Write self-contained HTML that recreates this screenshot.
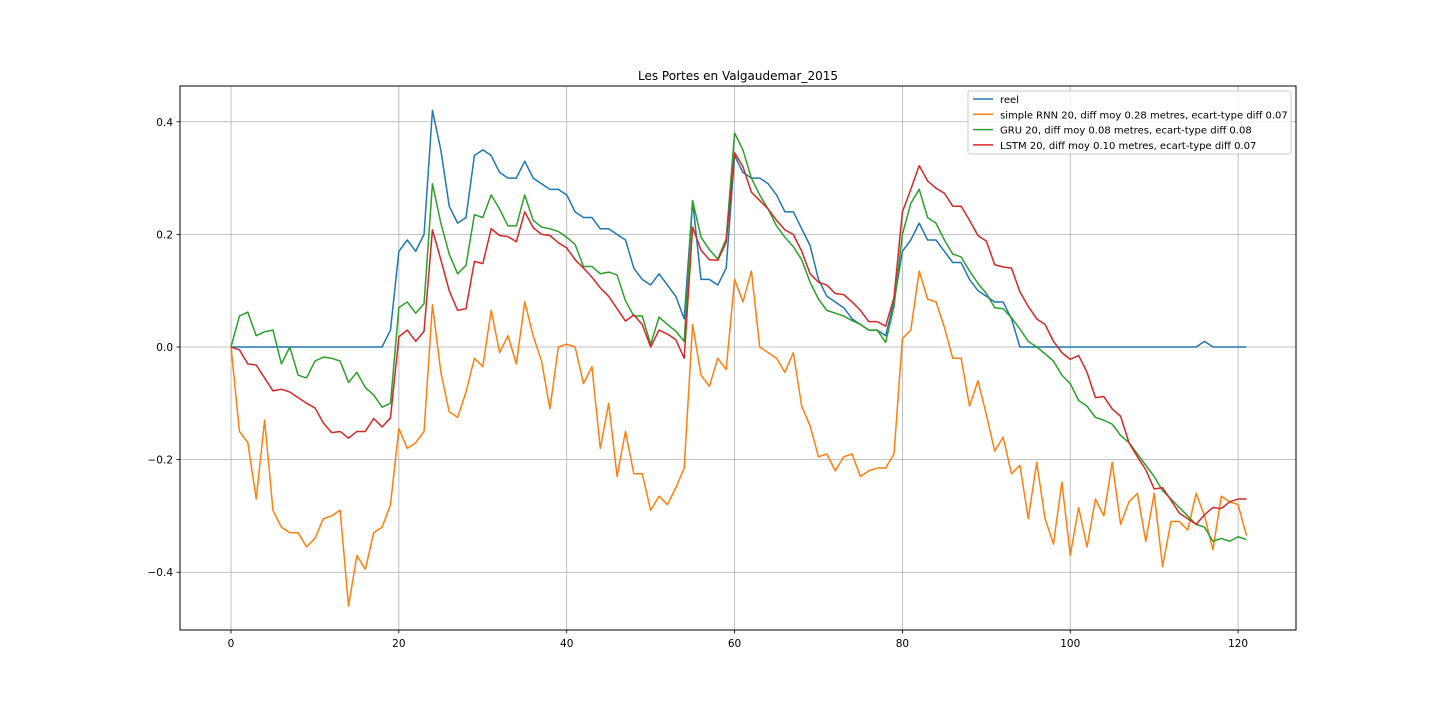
<!DOCTYPE html>
<html><head><meta charset="utf-8"><style>
body{margin:0;background:#fff;}
svg{font-family:"DejaVu Sans","Liberation Sans",sans-serif;}
</style></head><body>
<svg id="chart" width="1440" height="720">
<rect x="0" y="0" width="1440" height="720" fill="#fff"/>
<g id="grid"></g>
<g id="lines"></g>
<rect x="180" y="86" width="1116" height="544" fill="none" stroke="#000" stroke-width="1"/>
<g id="ticks"></g>
<text x="738" y="80" text-anchor="middle" font-size="12">Les Portes en Valgaudemar_2015</text>
<g id="legend"></g>
</svg>
<script>
const xTicks=[0,20,40,60,80,100,120];
const yTicks=[-0.4,-0.2,0.0,0.2,0.4];
const yTickLabels=["\u22120.4","\u22120.2","0.0","0.2","0.4"];
const seriesNames=["reel","simple RNN 20, diff moy 0.28 metres, ecart-type diff 0.07","GRU 20, diff moy 0.08 metres, ecart-type diff 0.08","LSTM 20, diff moy 0.10 metres, ecart-type diff 0.07"];
const seriesColors=["#1f77b4","#ff7f0e","#2ca02c","#d62728"];
const reel=[0,0,0,0,0,0,0,0,0,0,0,0,0,0,0,0,0,0,0,0.03,0.17,0.19,0.17,0.20,0.42,0.35,0.25,0.22,0.23,0.34,0.35,0.34,0.31,0.30,0.30,0.33,0.30,0.29,0.28,0.28,0.27,0.24,0.23,0.23,0.21,0.21,0.20,0.19,0.14,0.12,0.11,0.13,0.11,0.09,0.05,0.26,0.12,0.12,0.11,0.14,0.34,0.31,0.30,0.30,0.29,0.27,0.24,0.24,0.21,0.18,0.12,0.09,0.08,0.07,0.05,0.04,0.03,0.03,0.02,0.08,0.17,0.19,0.22,0.19,0.19,0.17,0.15,0.15,0.12,0.10,0.09,0.08,0.08,0.05,0,0,0,0,0,0,0,0,0,0,0,0,0,0,0,0,0,0,0,0,0,0,0.01,0,0,0,0,0];
const rnn=[0,-0.15,-0.17,-0.27,-0.13,-0.29,-0.32,-0.33,-0.33,-0.355,-0.34,-0.305,-0.30,-0.29,-0.46,-0.37,-0.395,-0.33,-0.32,-0.28,-0.145,-0.18,-0.17,-0.15,0.075,-0.045,-0.115,-0.125,-0.08,-0.02,-0.035,0.065,-0.01,0.02,-0.03,0.08,0.02,-0.025,-0.11,0.0,0.005,0.0,-0.065,-0.035,-0.18,-0.10,-0.23,-0.15,-0.225,-0.225,-0.29,-0.265,-0.28,-0.25,-0.215,0.04,-0.05,-0.07,-0.02,-0.04,0.12,0.08,0.135,0.0,-0.01,-0.02,-0.045,-0.01,-0.105,-0.14,-0.195,-0.19,-0.22,-0.195,-0.19,-0.23,-0.22,-0.215,-0.215,-0.19,0.015,0.03,0.135,0.085,0.08,0.035,-0.02,-0.02,-0.105,-0.06,-0.12,-0.185,-0.16,-0.225,-0.21,-0.305,-0.205,-0.305,-0.35,-0.24,-0.37,-0.285,-0.355,-0.27,-0.30,-0.205,-0.315,-0.275,-0.26,-0.345,-0.26,-0.39,-0.31,-0.31,-0.325,-0.26,-0.30,-0.36,-0.265,-0.275,-0.28,-0.335];
const gru=[0,0.055,0.062,0.02,0.027,0.03,-0.03,0,-0.05,-0.055,-0.025,-0.018,-0.02,-0.025,-0.063,-0.045,-0.072,-0.085,-0.107,-0.10,0.07,0.08,0.06,0.077,0.29,0.22,0.165,0.13,0.145,0.235,0.23,0.27,0.245,0.215,0.215,0.27,0.225,0.213,0.21,0.205,0.195,0.182,0.143,0.143,0.13,0.133,0.128,0.082,0.055,0.055,0.005,0.053,0.04,0.028,0.01,0.26,0.195,0.173,0.156,0.192,0.38,0.35,0.30,0.27,0.245,0.215,0.195,0.178,0.155,0.115,0.085,0.065,0.06,0.055,0.047,0.04,0.03,0.03,0.008,0.072,0.20,0.255,0.28,0.23,0.22,0.19,0.165,0.16,0.135,0.113,0.095,0.07,0.068,0.052,0.032,0.01,0,-0.012,-0.025,-0.05,-0.065,-0.095,-0.105,-0.125,-0.13,-0.137,-0.157,-0.17,-0.19,-0.21,-0.23,-0.255,-0.27,-0.285,-0.30,-0.315,-0.32,-0.345,-0.34,-0.345,-0.337,-0.342];
const lstm=[0,-0.005,-0.03,-0.032,-0.055,-0.078,-0.075,-0.08,-0.09,-0.1,-0.108,-0.135,-0.152,-0.15,-0.162,-0.15,-0.15,-0.127,-0.142,-0.126,0.018,0.03,0.01,0.028,0.208,0.155,0.1,0.065,0.068,0.152,0.148,0.21,0.198,0.196,0.187,0.24,0.212,0.2,0.198,0.185,0.176,0.155,0.14,0.124,0.105,0.09,0.068,0.046,0.057,0.04,0.0,0.03,0.023,0.013,-0.02,0.213,0.172,0.155,0.154,0.186,0.345,0.32,0.275,0.26,0.245,0.225,0.208,0.2,0.17,0.13,0.115,0.11,0.095,0.093,0.08,0.065,0.045,0.045,0.037,0.088,0.24,0.28,0.322,0.295,0.282,0.273,0.25,0.25,0.225,0.198,0.188,0.146,0.142,0.14,0.098,0.072,0.05,0.04,0.01,-0.01,-0.022,-0.015,-0.045,-0.09,-0.088,-0.11,-0.123,-0.17,-0.195,-0.218,-0.252,-0.25,-0.272,-0.295,-0.305,-0.315,-0.298,-0.285,-0.287,-0.275,-0.27,-0.27];

const NS="http://www.w3.org/2000/svg";
const PL=180,PR=1296,PT=86,PB=630;
const XMIN=-6.08,XMAX=126.9,YMIN=-0.5026,YMAX=0.4635;
function sx(v){return PL+(v-XMIN)/(XMAX-XMIN)*(PR-PL);}
function sy(v){return PB-(v-YMIN)/(YMAX-YMIN)*(PB-PT);}
function mk(tag,attrs,parent){const e=document.createElementNS(NS,tag);for(const k in attrs)e.setAttribute(k,attrs[k]);parent.appendChild(e);return e;}
const grid=document.getElementById('grid'),ticks=document.getElementById('ticks'),lines=document.getElementById('lines'),legend=document.getElementById('legend');
xTicks.forEach(t=>{
  const x=sx(t);
  const g=mk('line',{x1:x,x2:x,y1:PT,y2:PB,stroke:'#b0b0b0','stroke-width':0.8},grid);
  
  
  mk('line',{x1:x,x2:x,y1:PB,y2:PB+3.5,stroke:'#000','stroke-width':0.8},ticks);
  const tx=mk('text',{x:x,y:PB+17,'text-anchor':'middle','font-size':10.5},ticks);
  tx.textContent=String(t);
  
  
});
yTicks.forEach((t,i)=>{
  const y=sy(t);
  const g=mk('line',{x1:PL,x2:PR,y1:y,y2:y,stroke:'#b0b0b0','stroke-width':0.8},grid);
  
  
  mk('line',{x1:PL-3.5,x2:PL,y1:y,y2:y,stroke:'#000','stroke-width':0.8},ticks);
  const tx=mk('text',{x:PL-7,y:y+4,'text-anchor':'end','font-size':10.5},ticks);
  tx.textContent=yTickLabels[i];
  
  
});
const allSeries=[reel,rnn,gru,lstm];
const drawOrder=[0,1,2,3];
drawOrder.forEach(si=>{
  const d=allSeries[si].map((v,i)=>(i?'L':'M')+sx(i).toFixed(2)+' '+sy(v).toFixed(2)).join(' ');
  const p=mk('path',{d:d,fill:'none',stroke:seriesColors[si],'stroke-width':1.5,'stroke-linejoin':'round'},lines);
  
  
});
const lb=mk('rect',{x:968,y:91,width:323,height:63,fill:'#fff','fill-opacity':0.8,stroke:'#ccc','stroke-width':1,rx:2},legend);


seriesNames.forEach((n,i)=>{
  const y=99+i*15.3;
  mk('line',{x1:973,x2:993,y1:y,y2:y,stroke:seriesColors[i],'stroke-width':1.5},legend);
  const t=mk('text',{x:1000,y:y+4,'font-size':10},legend);
  t.textContent=n;
  
  
});
</script>
</body></html>
